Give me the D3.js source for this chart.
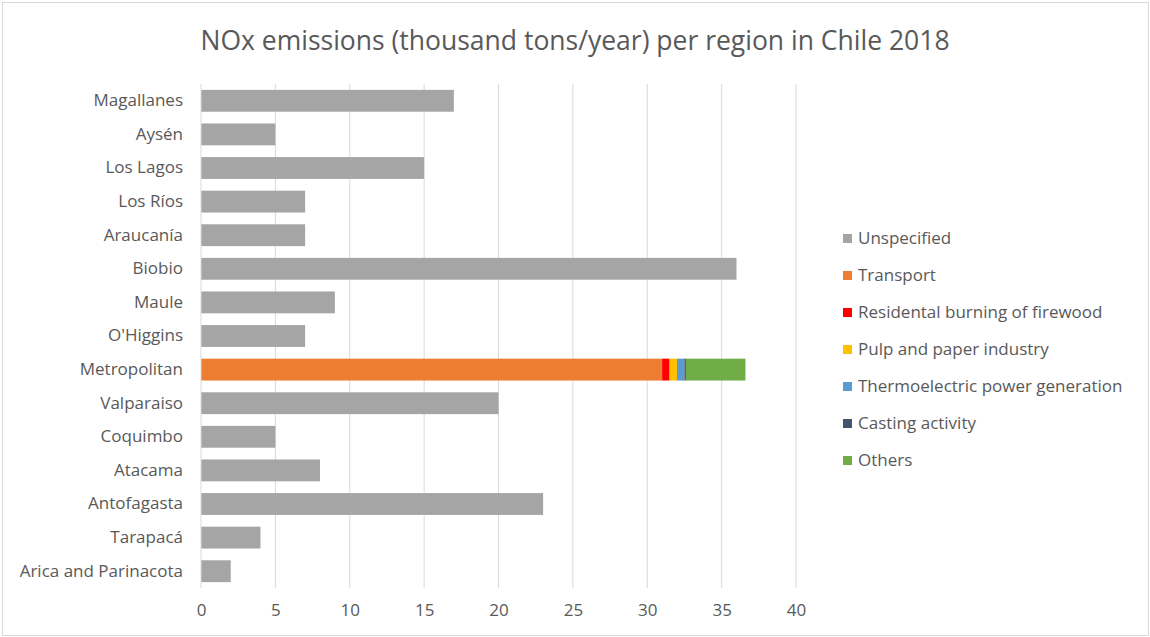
<!DOCTYPE html>
<html>
<head>
<meta charset="utf-8">
<script src="https://cdn.jsdelivr.net/npm/d3@7"></script>
<style>
  body { margin: 0; background: #fff; }
  text { font-family: "Open Sans", "Noto Sans", sans-serif; fill: #595959; }
</style>
</head>
<body>
<div id="chart"></div>
<script>
// regions from bottom (north) to top (south), as in the chart
var regions = ["Arica and Parinacota", "Tarapacá", "Antofagasta", "Atacama", "Coquimbo",
  "Valparaiso", "Metropolitan", "O'Higgins", "Maule", "Biobio", "Araucanía",
  "Los Ríos", "Los Lagos", "Aysén", "Magallanes"];

var sources = ["Unspecified", "Transport", "Residental burning of firewood",
  "Pulp and paper industry", "Thermoelectric power generation", "Casting activity", "Others"];

var colors = ["#a5a5a5", "#ed7d31", "#ff0000", "#ffc000", "#5b9bd5", "#44546a", "#70ad47"];

var unspecified = [2, 4, 23, 8, 5, 20, 0, 7, 9, 36, 7, 7, 15, 5, 17];
// Metropolitan breakdown
var transport = [0, 0, 0, 0, 0, 0, 31, 0, 0, 0, 0, 0, 0, 0, 0];
var firewood = [0, 0, 0, 0, 0, 0, 0.5, 0, 0, 0, 0, 0, 0, 0, 0];
var pulp = [0, 0, 0, 0, 0, 0, 0.5, 0, 0, 0, 0, 0, 0, 0, 0];
var thermo = [0, 0, 0, 0, 0, 0, 0.5, 0, 0, 0, 0, 0, 0, 0, 0];
var casting = [0, 0, 0, 0, 0, 0, 0.1, 0, 0, 0, 0, 0, 0, 0, 0];
var others = [0, 0, 0, 0, 0, 0, 4, 0, 0, 0, 0, 0, 0, 0, 0];

var xTicks = [0, 5, 10, 15, 20, 25, 30, 35, 40];

var width = 1150, height = 637;
var margin = {left: 201, right: 354, top: 84, bottom: 49};

var table = regions.map(function(r, i) {
  return {
    region: r,
    "Unspecified": unspecified[i],
    "Transport": transport[i],
    "Residental burning of firewood": firewood[i],
    "Pulp and paper industry": pulp[i],
    "Thermoelectric power generation": thermo[i],
    "Casting activity": casting[i],
    "Others": others[i]
  };
});

var svg = d3.select("#chart").append("svg")
  .attr("width", width)
  .attr("height", height);

svg.append("rect")
  .attr("x", 2.5).attr("y", 2.5)
  .attr("width", width - 4).attr("height", height - 4)
  .attr("fill", "#fff")
  .attr("stroke", "#d9d9d9");

var x = d3.scaleLinear().domain([0, 40]).range([margin.left, margin.left + 595]);
var y = d3.scaleBand().domain(regions.slice().reverse())
  .range([margin.top, height - margin.bottom]).paddingInner(0.35).paddingOuter(0.175);

var color = d3.scaleOrdinal().domain(sources).range(colors);

// gridlines
svg.append("g")
  .selectAll("line")
  .data(xTicks.slice(1))
  .enter().append("line")
  .attr("x1", function(d) { return x(d); })
  .attr("x2", function(d) { return x(d); })
  .attr("y1", margin.top)
  .attr("y2", height - margin.bottom)
  .attr("stroke", "#d9d9d9")
  .attr("stroke-width", 1);

// value axis labels
var xAxis = svg.append("g")
  .attr("transform", "translate(0," + (height - margin.bottom) + ")")
  .call(d3.axisBottom(x).tickValues(xTicks).tickSize(0).tickPadding(16));
xAxis.select(".domain").remove();
xAxis.selectAll("text").attr("font-size", 17).style("font-family", "'Open Sans', sans-serif").attr("fill", "#595959");

// stacked bars
var stack = d3.stack().keys(sources);
var series = stack(table);

svg.append("g")
  .selectAll("g")
  .data(series)
  .enter().append("g")
  .attr("fill", function(d) { return color(d.key); })
  .selectAll("rect")
  .data(function(d) { return d.filter(function(p) { return p[1] - p[0] > 0; }); })
  .enter().append("rect")
  .attr("x", function(d) { return x(d[0]); })
  .attr("width", function(d) { return x(d[1]) - x(d[0]); })
  .attr("y", function(d) { return y(d.data.region); })
  .attr("height", y.bandwidth());

// category axis line
svg.append("line")
  .attr("x1", x(0)).attr("x2", x(0))
  .attr("y1", margin.top).attr("y2", height - margin.bottom)
  .attr("stroke", "#d9d9d9");

var yAxis = svg.append("g")
  .attr("transform", "translate(" + margin.left + ",0)")
  .call(d3.axisLeft(y).tickSize(0).tickPadding(18));
yAxis.select(".domain").remove();
yAxis.selectAll("text").attr("font-size", 17).style("font-family", "'Open Sans', sans-serif").attr("fill", "#595959");

// title
svg.append("text")
  .attr("x", 575)
  .attr("y", 50)
  .attr("text-anchor", "middle")
  .attr("font-size", 26.5)
  .text("NOx emissions (thousand tons/year) per region in Chile 2018");

// legend
var legend = svg.append("g")
  .selectAll("g")
  .data(sources)
  .enter().append("g")
  .attr("transform", function(d, i) { return "translate(843," + (238 + i * 37) + ")"; });

legend.append("rect")
  .attr("x", 0).attr("y", -4)
  .attr("width", 9).attr("height", 9)
  .attr("fill", function(d) { return color(d); });

legend.append("text")
  .attr("x", 15)
  .attr("y", 0)
  .attr("dy", "0.35em")
  .attr("font-size", 17)
  .text(function(d) { return d; });
</script>
</body>
</html>
